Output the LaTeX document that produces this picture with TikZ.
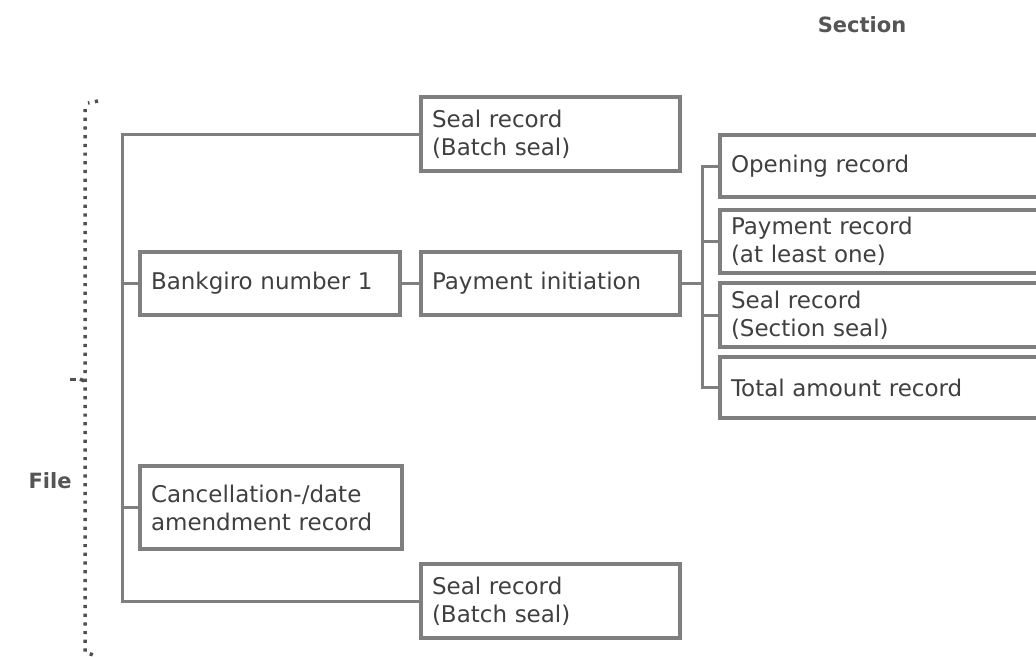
\documentclass[tikz,border=0pt]{standalone}
\usepackage{fontspec}
\setmainfont{DejaVu Sans}
\definecolor{linegray}{HTML}{7F7F7F}
\definecolor{txtgray}{HTML}{404040}
\definecolor{hdrgray}{HTML}{555555}
\definecolor{dotgray}{HTML}{505050}
\begin{document}
\begin{tikzpicture}[x=1pt,y=-1pt,
  box/.style={draw=linegray, line width=3.5pt, fill=white, rectangle, inner xsep=11pt, inner ysep=0pt,
    text=txtgray, align=left, font=\fontsize{23}{28}\selectfont},
  conn/.style={draw=linegray, line width=3pt},
  hdr/.style={text=hdrgray, font=\fontsize{21}{24}\selectfont\bfseries},
  brace/.style={draw=dotgray, line width=3.5pt, dash pattern=on 3.2pt off 5.5pt}]
\useasboundingbox (0,0) rectangle (1036,656);
\clip (0,0) rectangle (1036,656);
\fill[white] (0,0) rectangle (1036,656);

% headers
\node[hdr] (section) at (862,25) {Section};
\node[hdr] (file) at (50,481) {File};

% dotted brace
\draw[brace] (98,101) -- (88,103);
\draw[brace] (85,109) -- (85,652) -- (96,656);
\draw[draw=dotgray, line width=3.5pt] (70,379.5) -- (76,379.5);
\draw[draw=dotgray, line width=3.5pt] (80,379) -- (84,381);

% boxes
\node[box, minimum width=259pt, minimum height=74pt, text width=237pt] (seal1) at (550.5,134) {Seal record\\(Batch seal)};
\node[box, minimum width=260pt, minimum height=63pt, text width=238pt] (bg) at (270,283.5) {Bankgiro number 1};
\node[box, minimum width=259pt, minimum height=63pt, text width=237pt] (pi) at (550.5,283.5) {Payment initiation};
\node[box, minimum width=262pt, minimum height=83pt, text width=240pt] (cancel) at (271,507.5) {Cancellation-/date\\amendment record};
\node[box, minimum width=259pt, minimum height=74pt, text width=237pt] (seal2) at (550.5,601) {Seal record\\(Batch seal)};

\node[box, minimum width=330pt, minimum height=62pt, text width=308pt] (open) at (885,166) {Opening record};
\node[box, minimum width=330pt, minimum height=63pt, text width=308pt] (pay) at (885,241.5) {Payment record\\(at least one)};
\node[box, minimum width=330pt, minimum height=64pt, text width=308pt] (sseal) at (885,315) {Seal record\\(Section seal)};
\node[box, minimum width=330pt, minimum height=61pt, text width=308pt] (total) at (885,387.5) {Total amount record};

% trunk coordinates
\coordinate (tr) at (122,0);
\coordinate (st) at (702,0);

% file tree connectors
\draw[conn] (seal1.west) -- (seal1.west -| tr) -- (seal2.west -| tr) -- (seal2.west);
\draw[conn] (bg.west) -- (bg.west -| tr);
\draw[conn] (cancel.west) -- (cancel.west -| tr);
\draw[conn] (bg.east) -- (pi.west);

% section connectors
\draw[conn] (pi.east) -- (pi.east -| st);
\draw[conn] (open.west) -- (open.west -| st) -- (total.west -| st) -- (total.west);
\draw[conn] (pay.west) -- (pay.west -| st);
\draw[conn] (sseal.west) -- (sseal.west -| st);
\end{tikzpicture}
\end{document}
